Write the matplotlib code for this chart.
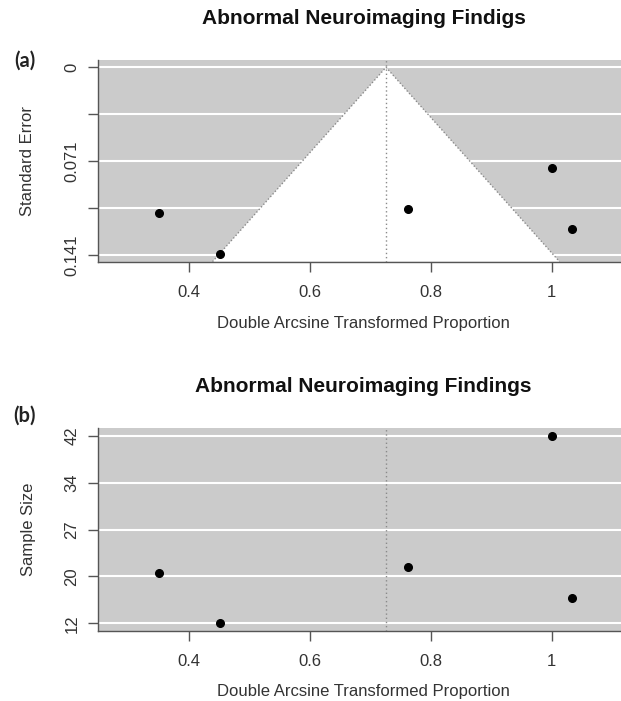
import matplotlib
matplotlib.use("Agg")
import matplotlib.pyplot as plt
import numpy as np

# ---------------- data ----------------
effect = [0.351, 0.451, 0.762, 1.001, 1.033]      # double arcsine transformed proportions
std_err = [0.110, 0.141, 0.107, 0.076, 0.122]     # standard errors
sample_size = [20, 12, 21, 42, 16]                # sample sizes
pooled = 0.726                                    # pooled estimate (vertical reference line)

x_ticks = [0.4, 0.6, 0.8, 1.0]
x_tick_labels = ["0.4", "0.6", "0.8", "1"]
se_ticks = [0.0, 0.0354, 0.0707, 0.1061, 0.1414]
se_tick_labels = ["0", "", "0.071", "", "0.141"]
n_ticks = [12, 19.5, 27, 34.5, 42]
n_tick_labels = ["12", "20", "27", "34", "42"]

title_a = "Abnormal Neuroimaging Findigs"
title_b = "Abnormal Neuroimaging Findings"
xlabel = "Double Arcsine Transformed Proportion"

# ---------------- layout ----------------
W, H = 621, 701
fig = plt.figure(figsize=(W / 100, H / 100), dpi=100)
fig.patch.set_facecolor("white")

FONT = "Liberation Sans"
BG = "#cbcbcb"
AXC = "#555555"
TXT = "#333333"


def px_axes(left, top, right, bottom):
    return fig.add_axes([left / W, 1 - bottom / H, (right - left) / W, (bottom - top) / H])


def style(ax, yticks, ylabels):
    ax.set_facecolor(BG)
    for s in ("top", "right"):
        ax.spines[s].set_visible(False)
    for s in ("left", "bottom"):
        ax.spines[s].set_color(AXC)
        ax.spines[s].set_linewidth(1.0)
    ax.set_xticks(x_ticks)
    ax.set_xticklabels(x_tick_labels, fontfamily=FONT, fontsize=12, color=TXT)
    ax.set_yticks(yticks)
    ax.set_yticklabels(ylabels, fontfamily=FONT, fontsize=12, color=TXT,
                       rotation=90, va="center")
    ax.tick_params(axis="x", length=7.5, width=1.0, color=AXC, pad=9)
    ax.tick_params(axis="y", length=7.5, width=1.0, color=AXC, pad=6)
    for y in yticks:
        ax.axhline(y, color="white", lw=1.5, zorder=1)


# ---------------- panel (a): funnel plot ----------------
ax1 = px_axes(98, 60, 629, 261.7)
style(ax1, se_ticks, se_tick_labels)
ax1.set_xlim(0.2494, 1.128)
ax1.set_ylim(0.1465, -0.0055)
se_bottom = 0.1465
fx = [pooled - 1.96 * se_bottom, pooled, pooled + 1.96 * se_bottom]
fy = [se_bottom, 0.0, se_bottom]
ax1.fill(fx, fy, color="white", zorder=2, lw=0)
ax1.plot(fx, fy, color="#8a8a8a", lw=1.0, linestyle=(0, (1, 1.5)), zorder=3)
ax1.axvline(pooled, color="#8a8a8a", lw=1.0, linestyle=(0, (1, 2)), zorder=3)
ax1.plot(effect, std_err, "o", color="black", ms=5.5, zorder=5, clip_on=False)

# ---------------- panel (b): sample size plot ----------------
ax2 = px_axes(98, 427.7, 629, 630.7)
style(ax2, n_ticks, n_tick_labels)
ax2.set_xlim(0.2494, 1.128)
ax2.set_ylim(10.82, 43.28)
ax2.axvline(pooled, color="#8a8a8a", lw=1.0, linestyle=(0, (1, 2)), zorder=3)
ax2.plot(effect, sample_size, "o", color="black", ms=5.5, zorder=5, clip_on=False)

# ---------------- titles, axis labels and panel letters ----------------
fig.text(363.5 / W, 1 - 19 / H, title_a, fontfamily=FONT, fontweight="bold",
         fontsize=15, color="#111111", ha="center", va="center")
fig.text(363.5 / W, 1 - 386.7 / H, title_b, fontfamily=FONT, fontweight="bold",
         fontsize=15, color="#111111", ha="center", va="center")
fig.text(363.5 / W, 1 - 323 / H, xlabel, fontfamily=FONT, fontsize=12, color=TXT,
         ha="center", va="center")
fig.text(363.5 / W, 1 - 691.5 / H, xlabel, fontfamily=FONT, fontsize=12, color=TXT,
         ha="center", va="center")
fig.text(28 / W, 1 - 160.8 / H, "Standard Error", fontfamily=FONT, fontsize=12,
         color=TXT, ha="center", va="center", rotation=90)
fig.text(28 / W, 1 - 529 / H, "Sample Size", fontfamily=FONT, fontsize=12,
         color=TXT, ha="center", va="center", rotation=90)
fig.text(25 / W, 1 - 61 / H, "(a)", fontfamily="Lato", fontweight="bold",
         fontsize=14.5, color="#222222", ha="center", va="center")
fig.text(24 / W, 1 - 416 / H, "(b)", fontfamily="Lato", fontweight="bold",
         fontsize=14.5, color="#222222", ha="center", va="center")

fig.savefig("out.png", dpi=100)
